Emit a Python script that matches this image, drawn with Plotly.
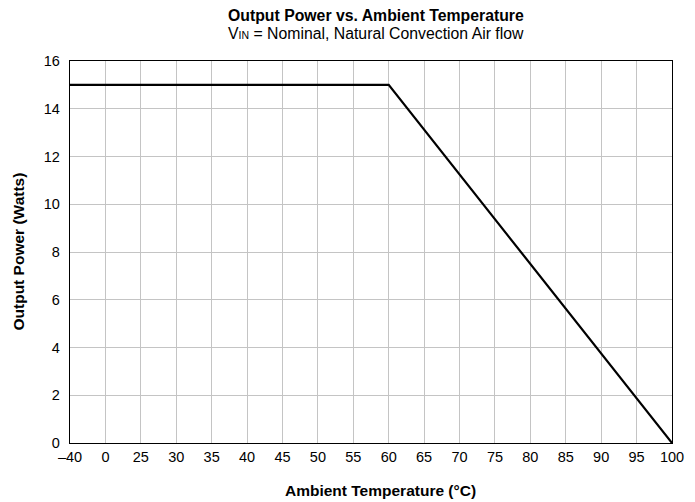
import plotly.graph_objects as go

tick_labels = ["–40", "0", "25", "30", "35", "40", "45", "50", "55", "60",
               "65", "70", "75", "80", "85", "90", "95", "100"]
curve_temp = ["–40", "60", "100"]
curve_power = [15, 15, 0]
y_ticks = [0, 2, 4, 6, 8, 10, 12, 14, 16]

W, H = 695, 502
L, R, T, B = 70, 23, 61, 59

fig = go.Figure()
fig.add_trace(go.Scatter(x=curve_temp, y=curve_power, mode="lines",
                         line=dict(color="black", width=2.2), showlegend=False))

font = "Liberation Sans, Arial, Helvetica, sans-serif"
fig.update_layout(
    width=W, height=H,
    margin=dict(l=L, r=R, t=T, b=B),
    paper_bgcolor="white", plot_bgcolor="white",
    font=dict(family=font, size=14.5, color="black"),
    xaxis=dict(type="category", categoryorder="array", categoryarray=tick_labels,
               tickvals=tick_labels, ticktext=tick_labels,
               range=[0, len(tick_labels) - 1],
               showgrid=True, gridcolor="#c4c4c4", gridwidth=1,
               showline=True, linecolor="black", linewidth=1.3, mirror=True,
               ticks="", ticklabelstandoff=0, zeroline=False),
    yaxis=dict(range=[0, 16], tickvals=y_ticks,
               showgrid=True, gridcolor="#c4c4c4", gridwidth=1,
               showline=True, linecolor="black", linewidth=1.3, mirror=True,
               ticks="", ticklabelstandoff=6, zeroline=False),
)

pw = W - L - R
ph = H - T - B
def px(x):
    return (x - L) / pw
def py(y):
    return (H - B - y) / ph

fig.add_annotation(text="<b>Output Power vs. Ambient Temperature</b>",
                   xref="paper", yref="paper", x=px(376), y=py(16),
                   xanchor="center", yanchor="middle", showarrow=False,
                   font=dict(size=15.8))
fig.add_annotation(text="V<span style='font-size:10.5px'>IN</span> = Nominal, Natural Convection Air flow",
                   xref="paper", yref="paper", x=px(376), y=py(34),
                   xanchor="center", yanchor="middle", showarrow=False,
                   font=dict(size=15.8))
fig.add_annotation(text="<b>Ambient Temperature (°C)</b>",
                   xref="paper", yref="paper", x=px(380), y=py(490),
                   xanchor="center", yanchor="middle", showarrow=False,
                   font=dict(size=15.5))
fig.add_annotation(text="<b>Output Power (Watts)</b>", xref="paper", yref="paper",
                   x=px(17.5), y=py(252), textangle=-90, showarrow=False,
                   xanchor="center", yanchor="middle", font=dict(size=15.5))

fig.write_html("out.html", post_script="document.body.style.margin='0px';",
               config={"displayModeBar": False})
